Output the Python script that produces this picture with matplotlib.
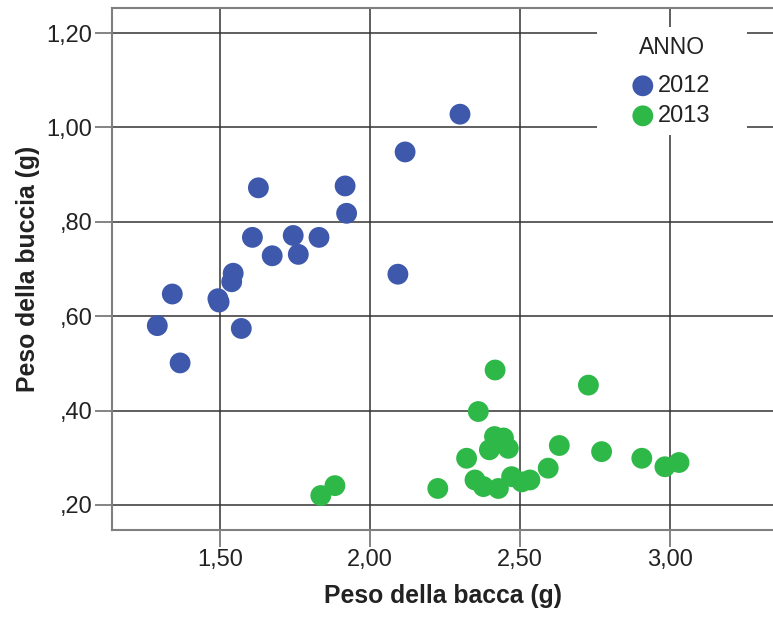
import matplotlib

matplotlib.use("Agg")
import matplotlib.pyplot as plt
from matplotlib.patches import Rectangle
from matplotlib.ticker import FuncFormatter

plt.rcParams["font.family"] = ["Liberation Sans", "DejaVu Sans"]

# 2012 berries: weight of berry (g) vs weight of skin (g)
bacca_2012 = [1.628, 1.917, 1.922, 1.608, 1.744, 1.830, 1.674, 1.761, 1.544,
              1.539, 1.493, 1.497, 1.341, 1.291, 1.571, 1.367, 2.117, 2.300, 2.093]
buccia_2012 = [0.872, 0.876, 0.818, 0.767, 0.771, 0.767, 0.728, 0.731, 0.691,
               0.673, 0.637, 0.630, 0.647, 0.580, 0.574, 0.501, 0.948, 1.028, 0.689]

# 2013 berries
bacca_2013 = [2.417, 2.728, 2.361, 2.415, 2.445, 2.398, 2.461, 2.322, 2.631,
              2.772, 2.594, 2.226, 1.883, 1.836, 2.350, 2.378, 2.428, 2.472,
              2.506, 2.533, 2.906, 2.983, 3.030]
buccia_2013 = [0.486, 0.454, 0.398, 0.345, 0.342, 0.317, 0.320, 0.299, 0.326,
               0.313, 0.278, 0.235, 0.241, 0.220, 0.253, 0.239, 0.235, 0.260,
               0.249, 0.253, 0.299, 0.281, 0.290]

anni = ["2012", "2013"]
colori = ["#3e58ac", "#2eb848"]

x_ticks = [1.5, 2.0, 2.5, 3.0]
y_ticks = [0.2, 0.4, 0.6, 0.8, 1.0, 1.2]


def it_fmt(v, pos):
    s = f"{v:.2f}".replace(".", ",")
    if s.startswith("0,"):
        s = s[1:]
    return s


fig = plt.figure(figsize=(7.73, 6.17), dpi=100)
ax = fig.add_axes([112 / 773, 87 / 617, 663 / 773, 522 / 617])

for xs, ys, anno, col in zip([bacca_2012, bacca_2013], [buccia_2012, buccia_2013],
                             anni, colori):
    ax.scatter(xs, ys, s=225, color=col, edgecolors="none", label=anno, zorder=3)

ax.set_xlim(1.14, 3.35)
ax.set_ylim(0.147, 1.253)
ax.set_xticks(x_ticks)
ax.set_yticks(y_ticks)
ax.xaxis.set_major_formatter(FuncFormatter(it_fmt))
ax.yaxis.set_major_formatter(FuncFormatter(it_fmt))

ax.grid(True, color="#333333", linewidth=1.1, zorder=1)
ax.set_axisbelow(True)
for sp in ax.spines.values():
    sp.set_color("#7f7f7f")
    sp.set_linewidth(1.5)

ax.tick_params(direction="out", length=12.5, width=1.2, color="#6f6f6f",
               labelsize=17, labelcolor="#222222", pad=1.5)

ax.set_xlabel("Peso della bacca (g)", fontsize=17.8, fontweight="bold",
              color="#222222", labelpad=9)
ax.set_ylabel("Peso della buccia (g)", fontsize=17.8, fontweight="bold",
              color="#222222", labelpad=5)

# white panel behind the legend, covering the gridlines
ax.add_patch(Rectangle((0.7315, 0.757), 0.226, 0.207, transform=ax.transAxes,
                       facecolor="white", edgecolor="none", zorder=2))

ax.text((672 - 112) / 663, (530 - 47) / 522, "ANNO", transform=ax.transAxes,
        ha="center", va="center", fontsize=16.5, color="#222222", zorder=5)

leg = ax.legend(loc="upper left", bbox_to_anchor=((631 - 112) / 663, (530 - 75) / 522),
                frameon=False, fontsize=17, handlelength=1.0, handletextpad=0.15,
                labelspacing=0.34, borderpad=0, borderaxespad=0,
                scatterpoints=1)
leg.set_zorder(5)
for t in leg.get_texts():
    t.set_color("#222222")

fig.patch.set_facecolor("white")
fig.savefig("out.png", dpi=100, facecolor="white")
